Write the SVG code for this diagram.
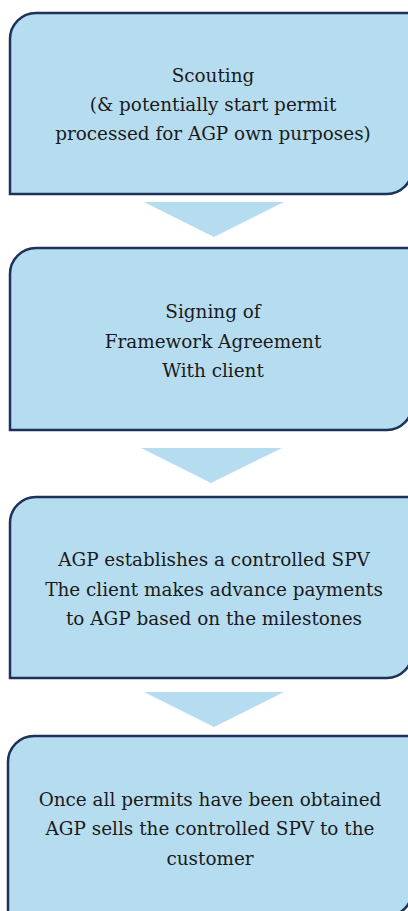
<svg xmlns="http://www.w3.org/2000/svg" width="408" height="911" viewBox="0 0 408 911">
<style>
.box{fill:#b6dcf0;stroke:#1c3258;stroke-width:2.5}
.arrow{fill:#b6dcf0;stroke:none}
text{font-family:"DejaVu Serif","Liberation Serif",serif;font-size:18.4px;fill:#1a1a1a;text-anchor:middle}
</style>
<rect width="408" height="911" fill="#ffffff"/>
<g id="connectors">
<polygon class="arrow" points="144,202 284,202 214,237"/>
<polygon class="arrow" points="141,448 282,448 211,483"/>
<polygon class="arrow" points="144,692 284,692 214,727"/>
</g>
<g id="node1">
<path class="box" d="M10,194 V39 A26,26 0 0 1 36,13 H412 V169 A25,25 0 0 1 387,194 Z"/>
<text x="213" y="82">Scouting</text>
<text x="213" y="111">(&amp; potentially start permit</text>
<text x="213" y="140">processed for AGP own purposes)</text>
</g>
<g id="node2">
<path class="box" d="M10,430 V274 A26,26 0 0 1 36,248 H412 V405 A25,25 0 0 1 387,430 Z"/>
<text x="213" y="318">Signing of</text>
<text x="213" y="348">Framework Agreement</text>
<text x="213" y="377">With client</text>
</g>
<g id="node3">
<path class="box" d="M10,678 V523 A26,26 0 0 1 36,497 H412 V653 A25,25 0 0 1 387,678 Z"/>
<text x="214" y="566">AGP establishes a controlled SPV</text>
<text x="214" y="596">The client makes advance payments</text>
<text x="214" y="625">to AGP based on the milestones</text>
</g>
<g id="node4">
<path class="box" d="M8,916 V762 A26,26 0 0 1 34,736 H412 V891 A25,25 0 0 1 387,916 Z"/>
<text x="210" y="806">Once all permits have been obtained</text>
<text x="210" y="835">AGP sells the controlled SPV to the</text>
<text x="210" y="865">customer</text>
</g>
</svg>
